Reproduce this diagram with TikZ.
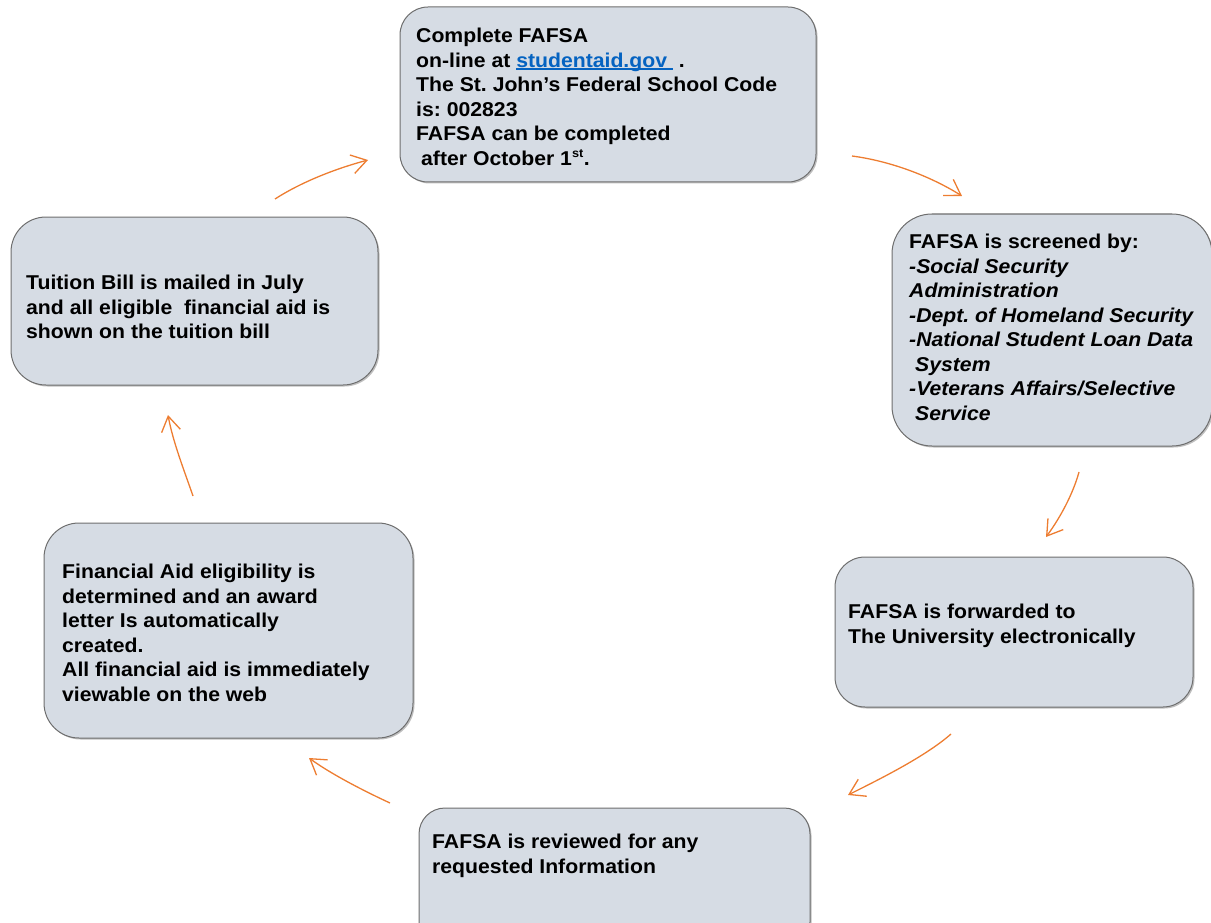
\documentclass[tikz,border=0pt]{standalone}
\usepackage{fontspec}
\setmainfont{Liberation Sans}[FakeStretch=1.06]
\usetikzlibrary{arrows.meta,shadows}
\definecolor{boxfill}{HTML}{D6DCE4}
\definecolor{boxline}{HTML}{6E6E6E}
\definecolor{arrowc}{HTML}{ED7D31}
\definecolor{linkc}{HTML}{0563C1}
\newcommand{\myul}[1]{\setbox0\hbox{#1}\rlap{\rule[-2.4pt]{\wd0}{1.4pt}}\box0}
\frenchspacing
\tikzset{
  stepbox/.style={draw=boxline, line width=1pt, fill=boxfill, inner sep=0pt,
    drop shadow={shadow xshift=1.5pt, shadow yshift=-1.5pt, fill=black, opacity=0.25}},
  boxtext/.style={anchor=north west, inner sep=0pt, align=left,
    font=\fontsize{20}{24.5}\selectfont\bfseries\frenchspacing},
  flow/.style={draw=arrowc, line width=1.3pt, -{Straight Barb[length=15pt,width=19pt,line width=1.3pt]}}
}
\begin{document}
\begin{tikzpicture}[x=1pt,y=-1pt]
\useasboundingbox (0,0) rectangle (1211,923);
% boxes
\node[stepbox, rounded corners=28pt, minimum width=416pt, minimum height=175pt] (top) at (608,94.5) {};
\node[stepbox, rounded corners=40pt, minimum width=320pt, minimum height=232pt] (scr) at (1052,330) {};
\node[stepbox, rounded corners=30pt, minimum width=358pt, minimum height=150pt] (fwd) at (1014,632) {};
\node[stepbox, rounded corners=26pt, minimum width=391pt, minimum height=140pt] (rev) at (614.5,878) {};
\node[stepbox, rounded corners=35pt, minimum width=369pt, minimum height=215pt] (fin) at (228.5,630.5) {};
\node[stepbox, rounded corners=35pt, minimum width=367pt, minimum height=168pt] (tuit) at (194.5,301) {};
% texts
\node[boxtext] (ttop) at (416,28) {Complete FAFSA\\
on-line at \textcolor{linkc}{\myul{studentaid.gov\ }} .\\
The St. John’s Federal School Code\\
is: 002823\\
FAFSA can be completed\\
\hspace{5pt}after October 1\textsuperscript{\fontsize{12}{12}\selectfont st}.};
\node[boxtext] (tscr) at (909,234) {FAFSA is screened by:\\
\itshape -Social Security\\
\itshape Administration\\
\itshape -Dept. of Homeland Security\\
\itshape -National Student Loan Data\\
\itshape \hspace{6pt}System\\
\itshape -Veterans Affairs/Selective\\
\itshape \hspace{6pt}Service};
\node[boxtext] (tfwd) at (848,604) {FAFSA is forwarded to\\
The University electronically};
\node[boxtext] (trev) at (432,834) {FAFSA is reviewed for any\\
requested Information};
\node[boxtext] (tfin) at (62,564) {Financial Aid eligibility is\\
determined and an award\\
letter Is automatically\\
created.\\
All financial aid is immediately\\
viewable on the web};
\node[boxtext] (ttuit) at (26,275) {Tuition Bill is mailed in July\\
and all eligible\ \ financial aid is\\
shown on the tuition bill};
% arrow end points
\coordinate (a1s) at (275,199); \coordinate (a1e) at (368,160);
\coordinate (a2s) at (852,156); \coordinate (a2e) at (962,196);
\coordinate (a3s) at (1079,472); \coordinate (a3e) at (1046,537);
\coordinate (a4s) at (951,734); \coordinate (a4e) at (848,795);
\coordinate (a5s) at (390,803); \coordinate (a5e) at (309,758);
\coordinate (a6s) at (193,496); \coordinate (a6e) at (168,415);
\draw[flow] (a1s) .. controls (303,181) and (338,168) .. (a1e);
\draw[flow] (a2s) .. controls (890,161) and (930,176) .. (a2e);
\draw[flow] (a3s) .. controls (1073,494) and (1060,518) .. (a3e);
\draw[flow] (a4s) .. controls (926,756) and (882,778) .. (a4e);
\draw[flow] (a5s) .. controls (364,791) and (331,774) .. (a5e);
\draw[flow] (a6s) .. controls (184,470) and (173,442) .. (a6e);
\end{tikzpicture}
\end{document}
